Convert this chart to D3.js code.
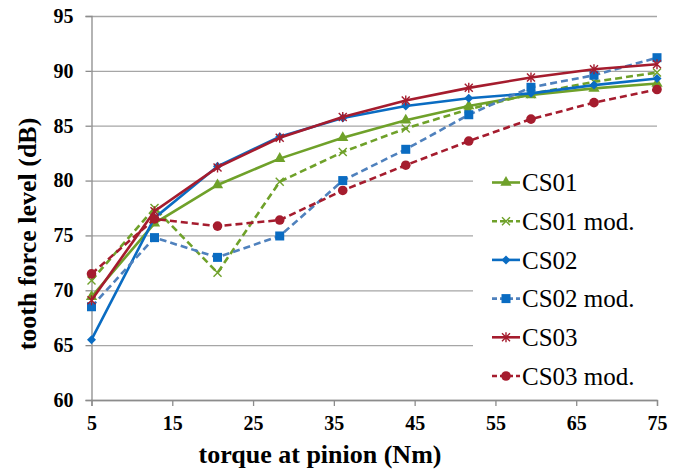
<!DOCTYPE html>
<html>
<head>
<meta charset="utf-8">
<script src="https://cdn.jsdelivr.net/npm/d3@7/dist/d3.min.js"></script>
<style>
  body { margin: 0; background: #fff; }
  svg { display: block; }
</style>
</head>
<body>
<div id="chart"></div>
<script>
// torque at pinion (Nm)
const torque = [5, 12.8, 20.6, 28.3, 36.1, 43.9, 51.7, 59.4, 67.2, 75];
// tooth force level (dB)
const cs01    = [69.4, 76.1, 79.6, 82.0, 83.9, 85.5, 86.8, 87.8, 88.4, 88.85];
const cs01mod = [70.9, 77.5, 71.6, 79.9, 82.6, 84.75, 86.5, 87.9, 89.0, 89.85];
const cs02    = [65.5, 76.6, 81.3, 84.0, 85.7, 86.8, 87.5, 87.95, 88.7, 89.3];
const cs02mod = [68.5, 74.8, 73.0, 74.95, 80.0, 82.85, 86.0, 88.5, 89.6, 91.2];
const cs03    = [69.1, 77.2, 81.2, 83.9, 85.8, 87.3, 88.45, 89.4, 90.15, 90.6];
const cs03mod = [71.5, 76.5, 75.85, 76.4, 79.1, 81.4, 83.6, 85.6, 87.1, 88.3];
const seriesNames = ['CS01', 'CS01 mod.', 'CS02', 'CS02 mod.', 'CS03', 'CS03 mod.'];
const xTicks = [5, 15, 25, 35, 45, 55, 65, 75];
const yTicks = [60, 65, 70, 75, 80, 85, 90, 95];

const GREEN = '#6fa12a', BLUE = '#0a6cc2', LBLUE = '#4f81bd', RED = '#a51c2e';
const styles = [
    { line: GREEN, fill: GREEN, dash: null, marker: 'tri' },
    { line: GREEN, fill: GREEN, dash: '7,4', marker: 'x' },
    { line: BLUE, fill: BLUE, dash: null, marker: 'diamond' },
    { line: LBLUE, fill: BLUE, dash: '7,4', marker: 'square' },
    { line: RED, fill: RED, dash: null, marker: 'star' },
    { line: RED, fill: RED, dash: '7,4', marker: 'circle' }
];
const values = [cs01, cs01mod, cs02, cs02mod, cs03, cs03mod];

const width = 681, height = 470;
const L = 91.5, R = 657, T = 16, B = 400;
const serif = '"Liberation Serif", "Times New Roman", serif';

const svg = d3.select('#chart').append('svg')
    .attr('width', width).attr('height', height)
    .attr('viewBox', `0 0 ${width} ${height}`);

const x = d3.scaleLinear().domain([5, 75]).range([L, R]);
const y = d3.scaleLinear().domain([60, 95]).range([B, T]);

// Gridlines
svg.append('g')
    .attr('transform', `translate(${L},0)`)
    .call(d3.axisLeft(y).tickValues(yTicks).tickSize(-(R - L)).tickFormat(''))
    .call((sel) => sel.select('.domain').remove())
    .call((sel) => sel.selectAll('line').attr('stroke', '#a6a6a6').attr('stroke-width', 1.3));

// Axes
const yAxis = svg.append('g')
    .attr('transform', `translate(${L},0)`)
    .call(d3.axisLeft(y).tickValues(yTicks).tickSize(6).tickPadding(12).tickFormat(d3.format('d')));
const xAxis = svg.append('g')
    .attr('transform', `translate(0,${B})`)
    .call(d3.axisBottom(x).tickValues(xTicks).tickSize(6).tickPadding(10).tickFormat(d3.format('d')));
[xAxis, yAxis].forEach((a) => {
    a.select('.domain').attr('stroke', '#8c8c8c').attr('stroke-width', 1.3);
    a.selectAll('.tick line').attr('stroke', '#8c8c8c').attr('stroke-width', 1.3);
    a.selectAll('text').attr('font-family', serif).attr('font-weight', 'bold')
        .attr('font-size', 20).attr('fill', '#000');
});

// Axis titles
svg.append('text')
    .attr('x', 320).attr('y', 463)
    .attr('text-anchor', 'middle')
    .attr('font-family', serif).attr('font-weight', 'bold').attr('font-size', 26)
    .text('torque at pinion (Nm)');
svg.append('text')
    .attr('transform', 'translate(27,234) rotate(-90)')
    .attr('text-anchor', 'middle').attr('dy', '0.35em')
    .attr('font-family', serif).attr('font-weight', 'bold').attr('font-size', 26)
    .text('tooth force level (dB)');

// Marker drawing
function drawMarker(sel, kind, color) {
    if (kind === 'tri') {
        sel.append('path').attr('d', d3.symbol(d3.symbolTriangle, 55)()).attr('fill', color);
    } else if (kind === 'diamond') {
        sel.append('path').attr('d', 'M0,-4.5L4.5,0L0,4.5L-4.5,0Z').attr('fill', color);
    } else if (kind === 'square') {
        sel.append('rect').attr('x', -4.5).attr('y', -4.5).attr('width', 9).attr('height', 9).attr('fill', color);
    } else if (kind === 'circle') {
        sel.append('circle').attr('r', 4.8).attr('fill', color);
    } else if (kind === 'x') {
        sel.append('path').attr('d', 'M-4,-4L4,4M-4,4L4,-4')
            .attr('stroke', color).attr('stroke-width', 1.4).attr('fill', 'none');
    } else if (kind === 'star') {
        sel.append('path').attr('d', 'M-4,-4L4,4M-4,4L4,-4M0,-5L0,5')
            .attr('stroke', color).attr('stroke-width', 1.4).attr('fill', 'none');
    }
}

// Series
const line = d3.line().x((d) => x(d[0])).y((d) => y(d[1]));
values.forEach((vals, i) => {
    const st = styles[i];
    const pts = torque.map((t, j) => [t, vals[j]]);
    const g = svg.append('g');
    g.append('path').datum(pts)
        .attr('fill', 'none').attr('stroke', st.line).attr('stroke-width', 2.6)
        .attr('stroke-dasharray', st.dash).attr('d', line);
    g.selectAll('g.pt').data(pts).join('g')
        .attr('class', 'pt')
        .attr('transform', (d) => `translate(${x(d[0])},${y(d[1])})`)
        .each(function () { drawMarker(d3.select(this), st.marker, st.fill); });
});

// Legend
const lg = svg.append('g');
lg.append('rect').attr('x', 473).attr('y', 160).attr('width', 200).attr('height', 238).attr('fill', '#fff');
seriesNames.forEach((name, i) => {
    const st = styles[i];
    const ly = 182.5 + i * 38.7;
    lg.append('line').attr('x1', 492).attr('x2', 520).attr('y1', ly).attr('y2', ly)
        .attr('stroke', st.line).attr('stroke-width', 2.6)
        .attr('stroke-dasharray', st.dash ? '5,3' : null);
    drawMarker(lg.append('g').attr('transform', `translate(506,${ly})`), st.marker, st.fill);
    lg.append('text').attr('x', 522).attr('y', ly).attr('dy', '0.35em')
        .attr('font-family', serif).attr('font-size', 25).attr('fill', '#000')
        .text(name);
});
</script>
</body>
</html>
